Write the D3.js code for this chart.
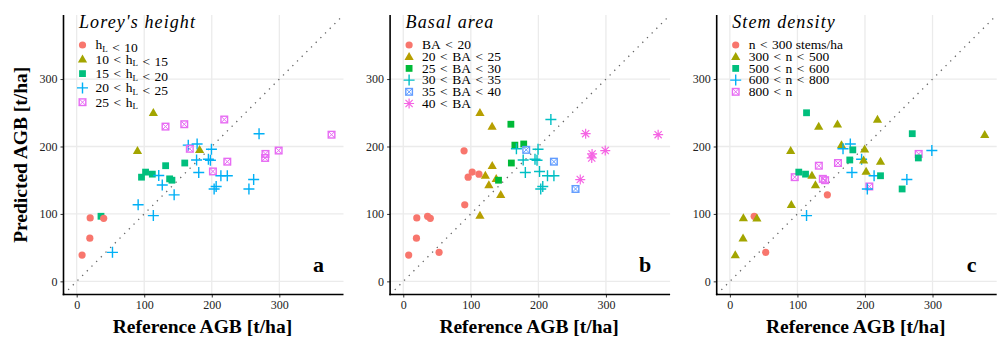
<!DOCTYPE html>
<html>
<head>
<meta charset="utf-8">
<script src="https://cdn.jsdelivr.net/npm/d3@7"></script>
<style>
  body { margin: 0; background: #fff; }
  svg text { font-family: "Liberation Serif", "DejaVu Serif", serif; fill: #000; }
</style>
</head>
<body>
<div id="chart"></div>
<script>
// reference vs predicted AGB [t/ha], one entry per plot
const refAGB = [8, 19.5, 20, 36, 40, 53, 91, 113.5, 90, 96, 102, 112, 121.5, 126.7, 144.3,
  131.7, 137.6, 141, 160, 113.5, 131.5, 159.3, 218.5, 270, 377.3, 165.2, 167.5, 178.3, 182,
  199.5, 177.5, 195, 198, 180.7, 201.7, 223, 213.5, 223, 206.5, 203.5, 255, 262, 279.5, 279, 299];
const predAGB = [39, 64, 94, 96.5, 93.5, 43, 113.5, 97.5, 193.5, 154.5, 162, 159, 157, 143, 128.3,
  171.5, 152, 150, 175.5, 250, 229.5, 233, 240, 219, 217.5, 202, 196.6, 203.7, 195,
  196, 180, 181, 179.5, 161.5, 163, 177.5, 156.6, 156.6, 140.7, 137, 137, 151, 189, 183, 194];

// class index of each plot in the three panels
const heightClass = [0, 0, 0, 2, 0, 3, 3, 3, 1, 2, 2, 2, 3, 3, 3,
  2, 2, 2, 2, 1, 4, 4, 4, 3, 4, 3, 4, 3, 1,
  3, 3, 3, 3, 3, 4, 4, 3, 3, 3, 3, 3, 3, 4, 4, 4];
const basalClass = [0, 0, 0, 0, 0, 0, 0, 1, 0, 0, 0, 0, 1, 1, 1,
  1, 1, 2, 2, 1, 1, 2, 3, 5, 5, 2, 3, 2, 4,
  3, 3, 3, 3, 3, 3, 4, 3, 3, 3, 3, 4, 5, 5, 5, 5];
const densityClass = [1, 1, 1, 0, 1, 0, 1, 3, 1, 4, 2, 2, 1, 1, 0,
  4, 4, 4, 4, 2, 1, 1, 1, 2, 1, 1, 3, 3, 2,
  1, 2, 3, 1, 3, 1, 1, 3, 2, 4, 3, 2, 3, 4, 2, 3];

const heightLabels = ['h_L < 10', '10 < h_L < 15', '15 < h_L < 20', '20 < h_L < 25', '25 < h_L'];
const basalLabels = ['BA < 20', '20 < BA < 25', '25 < BA < 30', '30 < BA < 35', '35 < BA < 40', '40 < BA'];
const densityLabels = ['n < 300 stems/ha', '300 < n < 500', '500 < n < 600', '600 < n < 800', '800 < n'];
const ticks = [0, 100, 200, 300];

const hue5 = ['#F8766D', '#A3A500', '#00BF7D', '#00B0F6', '#E76BF3'];
const hue6 = ['#F8766D', '#B79F00', '#00BA38', '#00BFC4', '#619CFF', '#F564E3'];

const panels = [
  { title: "Lorey's height", tag: 'a', cls: heightClass, labels: heightLabels, colors: hue5,
    shapes: ['circle', 'triangle', 'square', 'plus', 'boxx'], rowStep: 14.3 },
  { title: 'Basal area', tag: 'b', cls: basalClass, labels: basalLabels, colors: hue6,
    shapes: ['circle', 'triangle', 'square', 'plus', 'boxx', 'star'], rowStep: 11.7 },
  { title: 'Stem density', tag: 'c', cls: densityClass, labels: densityLabels, colors: hue5,
    shapes: ['circle', 'triangle', 'square', 'plus', 'boxx'], rowStep: 11.7 }
];

const width = 998, height = 340;
const plotW = 280, plotTop = 15, plotBottom = 294.5;
const lefts = [63.5, 390.1, 716.7];
const domain = [-19.5, 395];

const svg = d3.select('#chart')
  .append('svg')
  .attr('width', width)
  .attr('height', height);

function drawShape(g, shape, color) {
  if (shape === 'circle') {
    g.append('circle').attr('r', 3.6).style('fill', color);
  } else if (shape === 'triangle') {
    g.append('path').attr('d', 'M0,-4.8L4.6,3.2L-4.6,3.2Z').style('fill', color);
  } else if (shape === 'square') {
    g.append('rect').attr('x', -3.4).attr('y', -3.4).attr('width', 6.8).attr('height', 6.8).style('fill', color);
  } else if (shape === 'plus') {
    g.append('path').attr('d', 'M-5.5,0H5.5M0,-5.5V5.5')
      .style('stroke', color).style('stroke-width', 1.4).style('fill', 'none');
  } else if (shape === 'boxx') {
    g.append('rect').attr('x', -3.3).attr('y', -3.3).attr('width', 6.6).attr('height', 6.6)
      .style('fill', 'none').style('stroke', color).style('stroke-width', 1.4);
    g.append('path').attr('d', 'M-3.3,-3.3L3.3,3.3M-3.3,3.3L3.3,-3.3')
      .style('stroke', color).style('stroke-width', 1);
  } else if (shape === 'star') {
    g.append('path').attr('d', 'M-5,0H5M0,-5V5M-3.6,-3.6L3.6,3.6M-3.6,3.6L3.6,-3.6')
      .style('stroke', color).style('stroke-width', 1.2).style('fill', 'none');
  }
}

function writeLabel(text, label) {
  // math-style spacing around "<", and "h_L" gets a subscript L
  const s = label.split(' < ').join('\u2004<\u2004');
  const pieces = s.split('h_L');
  pieces.forEach((piece, i) => {
    if (piece) text.append('tspan').text(piece);
    if (i < pieces.length - 1) {
      text.append('tspan').text('h');
      text.append('tspan').attr('dy', 2.6).style('font-size', '9px').text('L');
      if (pieces[i + 1]) text.append('tspan').attr('dy', -2.6).text('');
    }
  });
}

panels.forEach((p, k) => {
  const left = lefts[k];
  const x = d3.scaleLinear().domain(domain).range([left, left + plotW]);
  const y = d3.scaleLinear().domain(domain).range([plotBottom, plotTop]);
  const g = svg.append('g').classed('panel', true);

  // grid
  g.selectAll('.vgrid').data(ticks).enter().append('line')
    .attr('x1', d => x(d)).attr('x2', d => x(d)).attr('y1', plotTop).attr('y2', plotBottom)
    .style('stroke', '#ebebeb').style('stroke-width', 1.3);
  g.selectAll('.hgrid').data(ticks).enter().append('line')
    .attr('y1', d => y(d)).attr('y2', d => y(d)).attr('x1', left).attr('x2', left + plotW)
    .style('stroke', '#ebebeb').style('stroke-width', 1.3);

  // 1:1 line
  g.append('line')
    .attr('x1', x(domain[0])).attr('y1', y(domain[0]))
    .attr('x2', x(domain[1])).attr('y2', y(domain[1]))
    .style('stroke', '#666').style('stroke-width', 1.3)
    .style('stroke-dasharray', '1.3,5.3');

  // axes
  const xAxis = g.append('g').attr('transform', `translate(0,${plotBottom})`)
    .call(d3.axisBottom(x).tickValues(ticks).tickSize(3).tickPadding(3));
  const yAxis = g.append('g').attr('transform', `translate(${left},0)`)
    .call(d3.axisLeft(y).tickValues(ticks).tickSize(3).tickPadding(3));
  [xAxis, yAxis].forEach(a => {
    a.select('.domain').remove();
    a.selectAll('.tick line').style('stroke', '#333');
    a.selectAll('text').style('font-size', '12px').style('fill', '#222')
      .style('font-family', '"Liberation Serif", serif');
  });
  g.append('line').attr('x1', left).attr('x2', left).attr('y1', plotTop).attr('y2', plotBottom + 0.8)
    .style('stroke', '#000').style('stroke-width', 1.6);
  g.append('line').attr('x1', left - 0.8).attr('x2', left + plotW).attr('y1', plotBottom).attr('y2', plotBottom)
    .style('stroke', '#000').style('stroke-width', 1.6);

  // points
  const pts = refAGB.map((r, i) => ({ r: r, p: predAGB[i], c: p.cls[i] }));
  g.selectAll('.pt').data(pts).enter().append('g')
    .classed('pt', true)
    .attr('transform', d => `translate(${x(d.r)},${y(d.p)})`)
    .each(function (d) { drawShape(d3.select(this), p.shapes[d.c], p.colors[d.c]); });

  // legend
  g.append('text')
    .attr('x', left + 15.5).attr('y', 28)
    .style('font-size', '18px').style('font-style', 'italic')
    .style('letter-spacing', '1.1px')
    .text(p.title);
  p.labels.forEach((lab, i) => {
    const ry = 45 + i * p.rowStep;
    const sg = g.append('g').attr('transform', `translate(${left + 19},${ry})`);
    drawShape(sg, p.shapes[i], p.colors[i]);
    const t = g.append('text').attr('x', left + 32).attr('y', ry + 4.3)
      .style('font-size', '13.5px');
    writeLabel(t, lab);
  });

  // panel tag
  g.append('text')
    .attr('x', left + plotW - 25).attr('y', 272)
    .attr('text-anchor', 'middle')
    .style('font-size', '22px').style('font-weight', 'bold')
    .text(p.tag);

  // x title
  g.append('text')
    .attr('x', left + plotW / 2 - 1).attr('y', 333)
    .attr('text-anchor', 'middle')
    .style('font-size', '19.5px').style('font-weight', 'bold')
    .text('Reference AGB [t/ha]');
});

svg.append('text')
  .attr('transform', `translate(27,${(plotTop + plotBottom) / 2}) rotate(-90)`)
  .attr('text-anchor', 'middle')
  .style('font-size', '19.5px').style('font-weight', 'bold')
  .text('Predicted AGB [t/ha]');
</script>
</body>
</html>
